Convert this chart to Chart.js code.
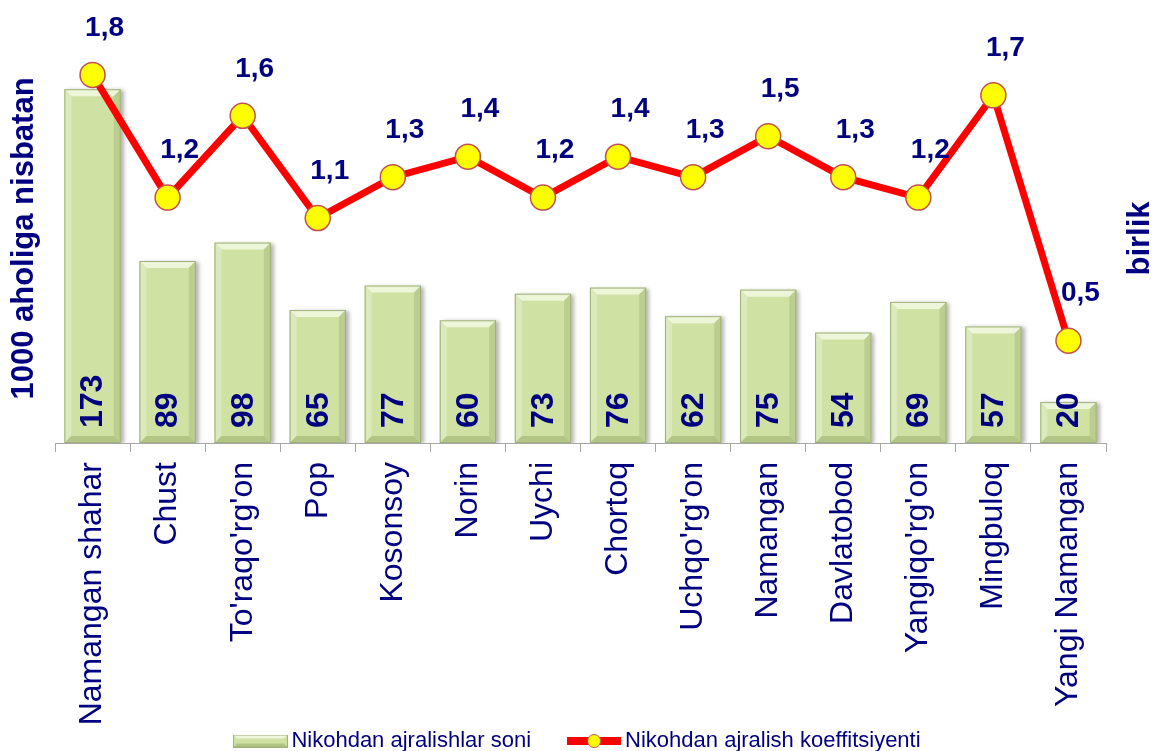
<!DOCTYPE html>
<html>
<head>
<meta charset="utf-8">
<title>Nikohdan ajralishlar</title>
<script src="https://cdn.jsdelivr.net/npm/chart.js@4.4.1/dist/chart.umd.min.js"></script>
<style>
  html, body { margin: 0; padding: 0; background: #fff; }
  #wrap { width: 1156px; height: 751px; position: relative; }
</style>
</head>
<body>
<div id="wrap"><canvas id="chart"></canvas></div>
<script>
// ma'lumotlar (rasmdan o'qilgan)
const tumanlar = ['Namangan shahar', 'Chust', "To'raqo'rg'on", 'Pop', 'Kosonsoy', 'Norin', 'Uychi',
  'Chortoq', "Uchqo'rg'on", 'Namangan', 'Davlatobod', "Yangiqo'rg'on", 'Mingbuloq', 'Yangi Namangan'];
const ajralishlarSoni = [173, 89, 98, 65, 77, 60, 73, 76, 62, 75, 54, 69, 57, 20];
const koeffitsiyent = [1.8, 1.2, 1.6, 1.1, 1.3, 1.4, 1.2, 1.4, 1.3, 1.5, 1.3, 1.2, 1.7, 0.5];
const seriyaNomlari = ['Nikohdan ajralishlar soni', 'Nikohdan ajralish koeffitsiyenti'];
const chapSarlavha = '1000 aholiga nisbatan';
const ongSarlavha = 'birlik';

const NAVY = '#000080';
const FONT = "Arial, 'Liberation Sans', sans-serif";

// legenda uchun kichik rasmlar
function barIcon() {
  const c = document.createElement('canvas');
  c.width = 55; c.height = 13;
  const g = c.getContext('2d');
  g.fillStyle = '#d0e1a4'; g.fillRect(0, 0, 55, 13);
  g.fillStyle = '#eef6da';
  g.beginPath(); g.moveTo(0, 0); g.lineTo(55, 0); g.lineTo(51, 4); g.lineTo(4, 4); g.fill();
  g.fillStyle = '#b3c585';
  g.beginPath(); g.moveTo(0, 13); g.lineTo(55, 13); g.lineTo(51, 9); g.lineTo(4, 9); g.fill();
  g.strokeStyle = '#9fb07a'; g.lineWidth = 1; g.strokeRect(0.5, 0.5, 54, 12);
  return c;
}
function lineIcon() {
  const c = document.createElement('canvas');
  c.width = 54; c.height = 16;
  const g = c.getContext('2d');
  g.fillStyle = '#ff0000'; g.fillRect(0, 4, 54, 8);
  g.beginPath(); g.arc(27, 8, 6.5, 0, Math.PI * 2);
  g.fillStyle = '#ffff00'; g.fill();
  g.strokeStyle = '#c0504d'; g.lineWidth = 1; g.stroke();
  return c;
}
const legendIcons = [barIcon(), lineIcon()];

// ustunlarga bo'rtma (3D) effekt
const bevelPlugin = {
  id: 'bevel',
  beforeDatasetDraw(chart, args) {
    if (args.meta.type !== 'bar') return;
    const ctx = chart.ctx;
    ctx.save();
    ctx.shadowColor = 'rgba(0,0,0,0.3)';
    ctx.shadowBlur = 4;
    ctx.shadowOffsetX = 3;
    ctx.shadowOffsetY = 1;
  },
  afterDatasetDraw(chart, args) {
    if (args.meta.type !== 'bar') return;
    const ctx = chart.ctx;
    ctx.restore();
    ctx.save();
    args.meta.data.forEach(bar => {
      const l = bar.x - bar.width / 2, r = bar.x + bar.width / 2;
      const t = bar.y, b = bar.base;
      const d = Math.min(7, (b - t) / 2);
      const poly = (pts, col) => {
        ctx.beginPath();
        ctx.moveTo(pts[0][0], pts[0][1]);
        pts.slice(1).forEach(p => ctx.lineTo(p[0], p[1]));
        ctx.closePath();
        ctx.fillStyle = col;
        ctx.fill();
      };
      poly([[l, t], [r, t], [r - d, t + d], [l + d, t + d]], '#eef6da');
      poly([[l, t], [l + d, t + d], [l + d, b - d], [l, b]], '#dce9bb');
      poly([[r, t], [r - d, t + d], [r - d, b - d], [r, b]], '#bccd90');
      poly([[l, b], [r, b], [r - d, b - d], [l + d, b - d]], '#b3c585');
      ctx.strokeStyle = '#9fb07a';
      ctx.lineWidth = 1;
      ctx.strokeRect(l + 0.5, t + 0.5, r - l - 1, b - t - 1);
    });
    ctx.restore();
  }
};

// x o'q yozuvlari legenda ustiga tushsa ham kesilmasin
const labelAreaPlugin = {
  id: 'labelArea',
  afterLayout(chart) { chart.scales.x.bottom = chart.height; }
};

// qiymat yozuvlari va o'q sarlavhalari
const labelPlugin = {
  id: 'yozuvlar',
  afterDraw(chart) {
    const ctx = chart.ctx;
    const area = chart.chartArea;
    ctx.save();
    ctx.fillStyle = NAVY;

    // ustun ichidagi sonlar
    ctx.font = 'bold 32px ' + FONT;
    ctx.textAlign = 'left';
    ctx.textBaseline = 'middle';
    chart.getDatasetMeta(0).data.forEach((bar, i) => {
      ctx.save();
      ctx.translate(bar.x, bar.base - 15);
      ctx.rotate(-Math.PI / 2);
      ctx.fillText(String(ajralishlarSoni[i]), 0, 1);
      ctx.restore();
    });

    // chiziq ustidagi koeffitsiyentlar
    ctx.font = 'bold 28px ' + FONT;
    ctx.textAlign = 'center';
    chart.getDatasetMeta(1).data.forEach((pt, i) => {
      const txt = koeffitsiyent[i].toFixed(1).replace('.', ',');
      ctx.fillText(txt, pt.x + 12, pt.y - 47);
    });

    // o'q sarlavhalari
    ctx.font = 'bold 31px ' + FONT;
    const midY = (area.top + area.bottom) / 2;
    [[24, chapSarlavha], [1140, ongSarlavha]].forEach(([x, txt]) => {
      ctx.save();
      ctx.translate(x, midY);
      ctx.rotate(-Math.PI / 2);
      ctx.fillText(txt, 0, 0);
      ctx.restore();
    });
    ctx.restore();
  }
};

const ctx = document.getElementById('chart').getContext('2d');
const chart = new Chart(ctx, {
  type: 'bar',
  data: {
    labels: tumanlar,
    datasets: [{
      type: 'bar',
      label: seriyaNomlari[0],
      data: ajralishlarSoni,
      yAxisID: 'y',
      backgroundColor: '#d0e1a4',
      borderWidth: 0,
      categoryPercentage: 1,
      barPercentage: 0.75,
      order: 2
    }, {
      type: 'line',
      label: seriyaNomlari[1],
      data: koeffitsiyent,
      yAxisID: 'y1',
      borderColor: '#ff0000',
      borderWidth: 7,
      backgroundColor: '#ffff00',
      pointRadius: 12.5,
      pointBorderColor: '#c0504d',
      pointBorderWidth: 1.5,
      pointBackgroundColor: '#ffff00',
      tension: 0,
      fill: false,
      order: 1
    }]
  },
  options: {
    responsive: true,
    maintainAspectRatio: false,
    animation: false,
    layout: { padding: { top: 34, left: 55, right: 50, bottom: -11 } },
    scales: {
      x: {
        grid: { offset: true, drawOnChartArea: false, tickLength: 9, color: '#a6a6a6' },
        border: { color: '#a6a6a6' },
        ticks: {
          autoSkip: false,
          minRotation: 90,
          maxRotation: 90,
          padding: 10,
          color: NAVY,
          font: { family: FONT, size: 32 }
        },
        // o'q balandligi: grafik maydoni pastki chegarasini joyida ushlab turish uchun
        afterFit(scale) { scale.height = 244; }
      },
      y: { display: false, min: 0, max: 200 },
      y1: { display: false, min: 0, max: 2, position: 'right' }
    },
    plugins: {
      tooltip: { enabled: false },
      legend: {
        position: 'bottom',
        labels: {
          color: NAVY,
          font: { family: FONT, size: 22 },
          usePointStyle: true,
          pointStyleWidth: 40,
          boxHeight: 16,
          padding: 43,
          generateLabels(chart) {
            const items = Chart.defaults.plugins.legend.labels.generateLabels(chart);
            items.sort((a, b) => a.datasetIndex - b.datasetIndex);
            items.forEach(it => { it.pointStyle = legendIcons[it.datasetIndex]; it.lineWidth = 0; });
            return items;
          }
        }
      }
    }
  },
  plugins: [bevelPlugin, labelAreaPlugin, labelPlugin]
});
</script>
</body>
</html>
